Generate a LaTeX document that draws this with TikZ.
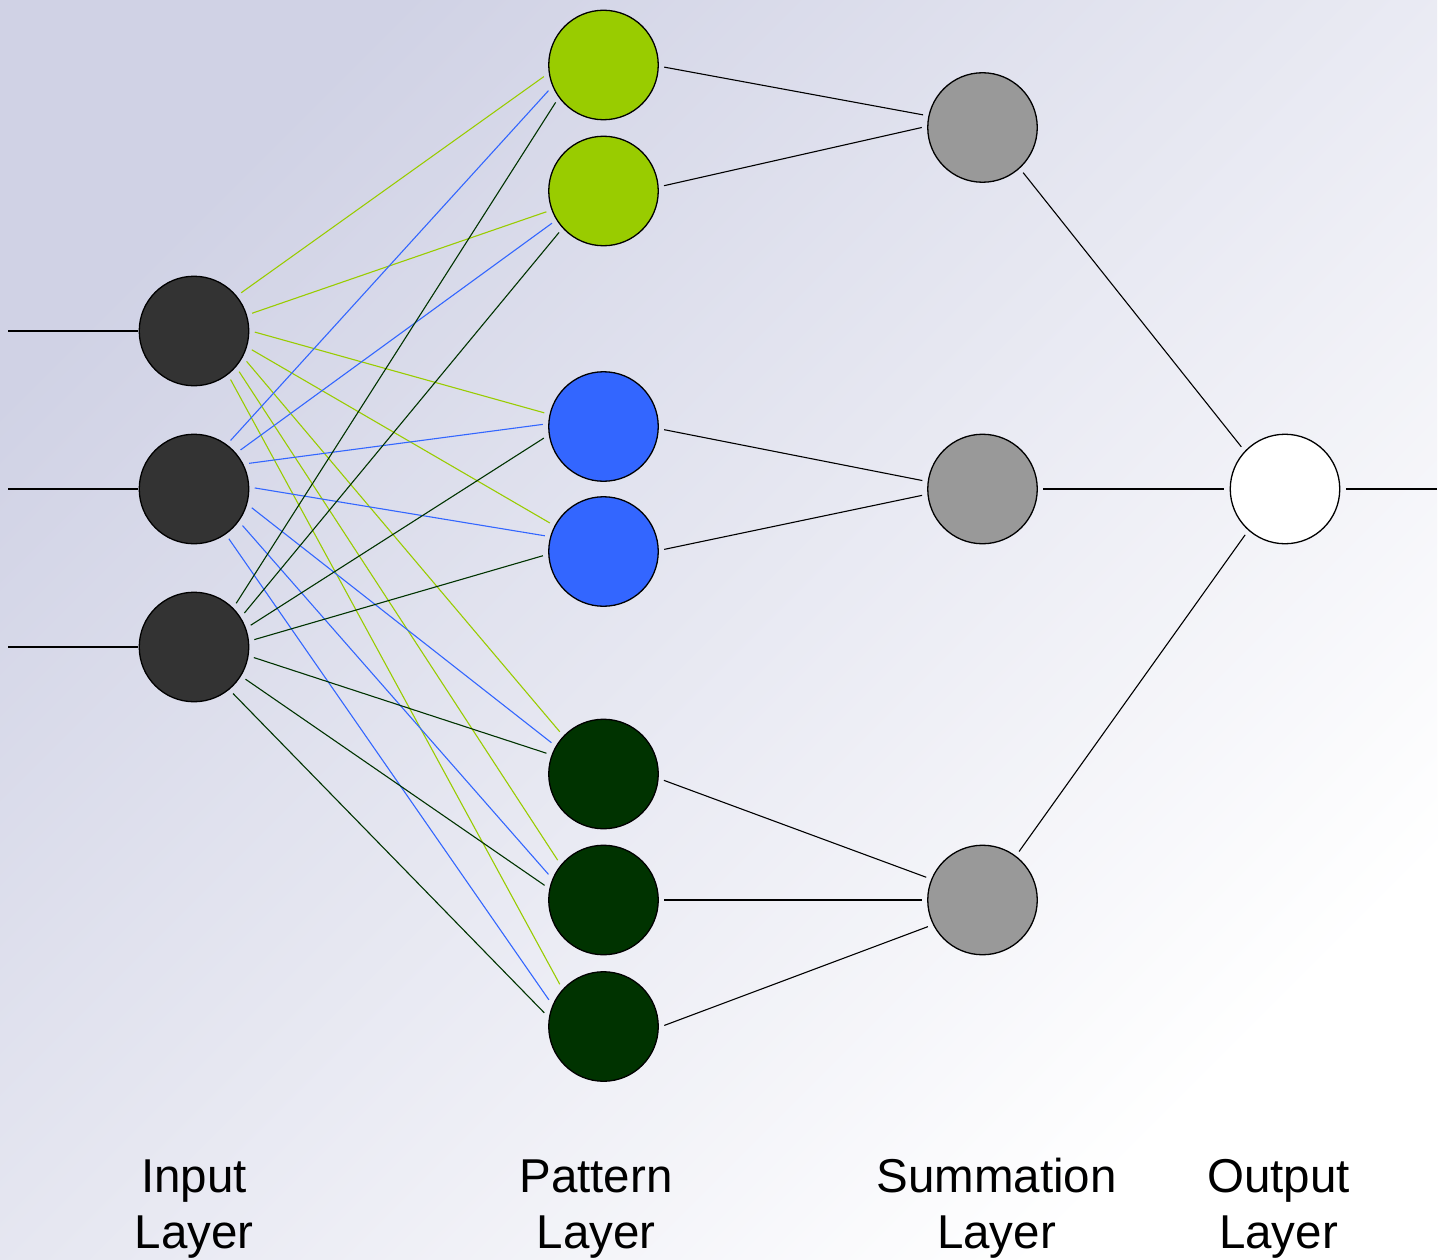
\documentclass[tikz,border=0pt]{standalone}
\usepackage{fontspec}
\setmainfont{Liberation Sans}

\definecolor{bgtop}{HTML}{D0D2E5}
\definecolor{lime}{HTML}{99CC00}
\definecolor{azure}{HTML}{3366FF}
\definecolor{forest}{HTML}{003300}
\definecolor{coal}{HTML}{333333}
\definecolor{ash}{HTML}{999999}

\begin{document}
\begin{tikzpicture}[x=1pt,y=-1pt,
  neuron/.style={circle, draw=black, line width=1.3pt, minimum size=109.5pt,
                 inner sep=0pt, outer sep=6pt},
  inputnode/.style={neuron, fill=coal},
  patA/.style={neuron, fill=lime},
  patB/.style={neuron, fill=azure},
  patC/.style={neuron, fill=forest},
  sumnode/.style={neuron, fill=ash},
  outnode/.style={neuron, fill=white},
  wire/.style={draw=black, line width=1.1pt},
  limeline/.style={draw=lime, line width=1.1pt},
  azureline/.style={draw=azure, line width=1.1pt},
  forestline/.style={draw=forest, line width=1.1pt},
  caption/.style={align=center, anchor=base, inner sep=0pt,
                  font=\fontsize{47.5}{56}\selectfont}
]
% page and background gradient
\useasboundingbox (0,0) rectangle (1450,1260);
\fill[white] (0,0) rectangle (1450,1260);
\shade[top color=bgtop, bottom color=white, shading angle=45] (0,0) rectangle (1437,1260);

% input layer
\node[inputnode] (i1) at (194,331) {};
\node[inputnode] (i2) at (194,489) {};
\node[inputnode] (i3) at (194,647) {};

% pattern layer
\node[patA] (p1) at (603.5,65) {};
\node[patA] (p2) at (603.5,191) {};
\node[patB] (p3) at (603.5,426.5) {};
\node[patB] (p4) at (603.5,551.5) {};
\node[patC] (p5) at (603.5,774) {};
\node[patC] (p6) at (603.5,900) {};
\node[patC] (p7) at (603.5,1026.5) {};

% summation layer
\node[sumnode] (s1) at (982.5,127.5) {};
\node[sumnode] (s2) at (982.5,489) {};
\node[sumnode] (s3) at (982.5,900) {};

% output layer
\node[outnode] (o) at (1285,489) {};

% free ends of the outer connectors
\coordinate (x1) at (8,331);
\coordinate (x2) at (8,489);
\coordinate (x3) at (8,647);
\coordinate (y) at (1437,489);

\foreach \n in {1,2,3}
  \draw[wire, shorten >=-5pt] (x\n) -- (i\n.west);
\draw[wire] (o.east) -- (y);

% input -> pattern
\foreach \t/\a/\b in {p1/39/191, p2/17/200, p3/-1/167, p4/-18/152,
                      p5/-30/136, p6/-42/139, p7/-53/136}
  \draw[limeline] (i1.\a) -- (\t.\b);
\foreach \t/\a/\b in {p1/53/205, p2/40/212, p3/25/178, p4/1/165,
                      p5/-18/149, p6/-37/155, p7/-55/154}
  \draw[azureline] (i2.\a) -- (\t.\b);
\foreach \t/\a/\b in {p1/46/218, p2/34/223, p3/21/191, p4/7/184,
                      p5/-10/160, p6/-32/166, p7/-50/167}
  \draw[forestline] (i3.\a) -- (\t.\b);

% pattern -> summation
\draw[wire] (p1.-2) -- (s1.168);
\draw[wire] (p2.5)  -- (s1.180);
\draw[wire] (p3.-3) -- (s2.172);
\draw[wire] (p4.2)  -- (s2.186);
\draw[wire] (p5.-6) -- (s3.158);
\draw[wire] (p6.0)  -- (s3.180);
\draw[wire] (p7.1)  -- (s3.206);

% summation -> output
\draw[wire] (s1.-48) -- (o.136);
\draw[wire] (s2.0)   -- (o.180);
\draw[wire] (s3.53)  -- (o.229);

% layer captions (anchored on the baseline of the last line)
\node[caption] (cin)  at (194,1248)  {Input\\Layer};
\node[caption] (cpat) at (596,1248)  {Pattern\\Layer};
\node[caption] (csum) at (996.5,1248) {Summation\\Layer};
\node[caption] (cout) at (1278.5,1248) {Output\\Layer};
\end{tikzpicture}
\end{document}
